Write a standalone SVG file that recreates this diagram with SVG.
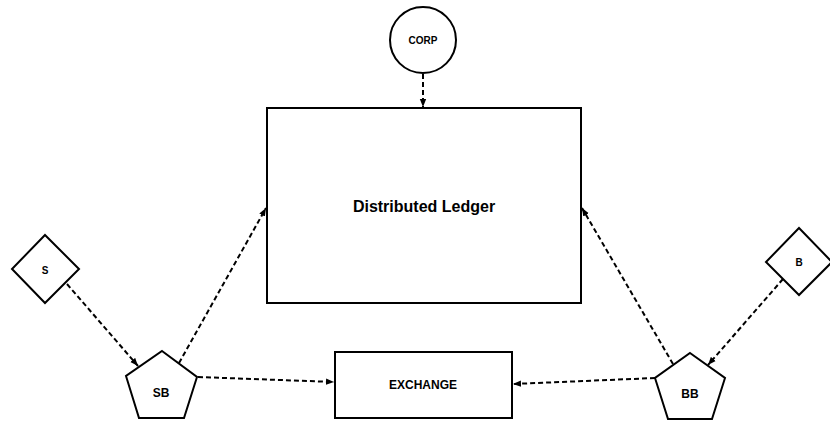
<svg xmlns="http://www.w3.org/2000/svg" width="830" height="421" viewBox="0 0 830 421">
  <style>
    .shape { fill: #ffffff; stroke: #000000; stroke-width: 2; }
    .label { font-family: "Liberation Sans", Arial, sans-serif; font-weight: bold; fill: #000000; text-anchor: middle; dominant-baseline: central; }
    .link { fill: none; stroke: #000000; stroke-width: 2; stroke-dasharray: 5 3; marker-end: url(#arrow); }
  </style>
  <defs>
    <marker id="arrow" markerUnits="userSpaceOnUse" markerWidth="8" markerHeight="8" viewBox="0 0 8 8" refX="8" refY="4" orient="auto">
      <path d="M0,0.8 L8,4 L0,7.2 Z" fill="#000000"/>
    </marker>
  </defs>
  <rect width="830" height="421" fill="#ffffff"/>

  <g id="connectors">
    <line class="link" x1="423" y1="74" x2="423" y2="107"/>
    <line class="link" x1="67" y1="284" x2="138" y2="366"/>
    <line class="link" x1="179" y1="363" x2="266" y2="208"/>
    <line class="link" x1="198" y1="377" x2="334" y2="382"/>
    <line class="link" x1="783" y1="279" x2="708" y2="365"/>
    <line class="link" x1="673" y1="364" x2="582" y2="208"/>
    <line class="link" x1="655" y1="378" x2="513" y2="384"/>
  </g>

  <g id="corp">
    <circle class="shape" cx="423" cy="40" r="33"/>
    <text class="label" x="423" y="40" font-size="10">CORP</text>
  </g>

  <g id="ledger">
    <rect class="shape" x="267" y="108" width="314" height="195"/>
    <text class="label" x="424" y="206" font-size="16">Distributed Ledger</text>
  </g>

  <g id="exchange">
    <rect class="shape" x="335" y="352" width="177" height="66"/>
    <text class="label" x="423" y="385" font-size="12">EXCHANGE</text>
  </g>

  <g id="s">
    <polygon class="shape" points="45,235 79,269 45,303 12,269"/>
    <text class="label" x="45" y="270" font-size="10">S</text>
  </g>

  <g id="b">
    <polygon class="shape" points="799,228 832,262 799,295 766,262"/>
    <text class="label" x="799" y="262" font-size="10">B</text>
  </g>

  <g id="sb">
    <polygon class="shape" points="162,351 197,377 184,418 139,418 126,376"/>
    <text class="label" x="161" y="393" font-size="12">SB</text>
  </g>

  <g id="bb">
    <polygon class="shape" points="690,353 725,378 712,419 668,419 655,378"/>
    <text class="label" x="690" y="394" font-size="12">BB</text>
  </g>
</svg>
